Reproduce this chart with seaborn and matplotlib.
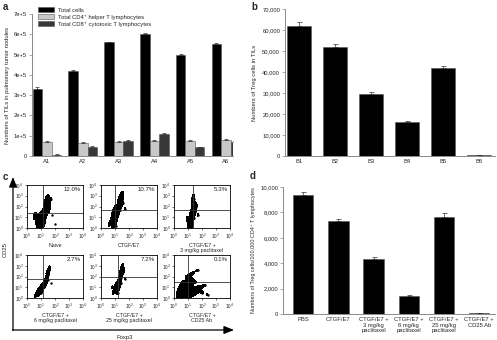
import numpy as np
import pandas as pd
import matplotlib
matplotlib.use("Agg")
import matplotlib.pyplot as plt
from matplotlib.colors import ListedColormap
import seaborn as sns

# ---------------- data ----------------
a_groups = ["A1", "A2", "A3", "A4", "A5", "A6"]
a_series = ["Total cells", "Total CD4⁺ helper T lymphocytes", "Total CD8⁺ cytotoxic T lymphocytes"]
a_total = [330000, 420000, 560000, 600000, 500000, 550000]
a_total_err = [8000, 5000, 4000, 4000, 4000, 8000]
a_cd4 = [70000, 65000, 70000, 75000, 75000, 80000]
a_cd4_err = [2000, 2000, 2000, 5000, 2000, 5000]
a_cd8 = [7000, 45000, 75000, 110000, 42000, 70000]
a_cd8_err = [1000, 2000, 5000, 2000, 3000, 2000]
a_yticks = [0, 100000, 200000, 300000, 400000, 500000, 600000, 700000]
a_yticklabels = ["0", "1e+5", "2e+5", "3e+5", "4e+5", "5e+5", "6e+5", "7e+5"]

b_groups = ["B1", "B2", "B3", "B4", "B5", "B6"]
b_vals = [62000, 52000, 29500, 16300, 42000, 500]
b_err = [2000, 1300, 1000, 600, 1000, 0]
b_yticks = [0, 10000, 20000, 30000, 40000, 50000, 60000, 70000]

d_groups = ["PBS", "CTGF/E7", "CTGF/E7 +\n3 mg/kg\npaclitaxel", "CTGF/E7 +\n6 mg/kg\npaclitaxel",
            "CTGF/E7 +\n25 mg/kg\npaclitaxel", "CTGF/E7 +\nCD25 Ab"]
d_vals = [9400, 7300, 4350, 1400, 7650, 100]
d_err = [200, 200, 100, 60, 300, 0]
d_yticks = [0, 2000, 4000, 6000, 8000, 10000]

# flow cytometry panels (log10 units)
c_titles = ["Naive", "CTGF/E7", "CTGF/E7 +\n3 mg/kg paclitaxel",
            "CTGF/E7 +\n6 mg/kg paclitaxel", "CTGF/E7 +\n25 mg/kg paclitaxel", "CTGF/E7 +\nCD25 Ab"]
c_pct = ["12.0%", "10.7%", "5.3%", "2.7%", "7.2%", "0.1%"]
c_gate_x = [1.15, 1.0, 1.35, 1.15, 1.2, 1.0]
c_gate_y = [1.4, 1.65, 1.65, 1.75, 1.95, 1.5]
c1_x = [0.8, 0.9, 1.0, 1.1, 0.7, 0.9, 1.0, 1.2, 0.8, 1.1, 1.0, 0.9, 1.2, 1.3, 1.3, 1.4, 1.5, 1.4, 1.6, 1.5, 1.3, 1.7, 0.6, 1.8, 0.5, 2.0, 1.1, 1.45]
c1_y = [0.2, 0.4, 0.3, 0.5, 0.6, 0.8, 1.0, 0.9, 1.1, 0.2, 0.7, 0.1, 0.5, 1.3, 1.7, 2.0, 2.3, 2.6, 1.9, 1.5, 2.3, 2.7, 1.4, 1.2, 0.9, 0.4, 1.5, 2.9]
c2_x = [0.8, 0.9, 1.0, 0.7, 0.9, 1.0, 1.1, 0.8, 1.0, 1.1, 1.2, 1.0, 1.3, 1.4, 1.3, 1.5, 1.4, 1.6, 1.2, 1.7, 0.6, 1.1, 1.5, 1.35]
c2_y = [0.1, 0.3, 0.5, 0.6, 0.9, 1.2, 0.2, 1.4, 1.6, 0.8, 1.9, 2.0, 2.2, 2.5, 2.8, 2.6, 3.0, 2.3, 1.3, 1.8, 0.4, 1.0, 3.1, 1.7]
c3_x = [1.0, 1.1, 1.2, 1.3, 1.1, 1.2, 1.0, 1.3, 1.4, 1.2, 1.3, 1.4, 1.5, 1.3, 1.4, 1.6, 1.5, 0.9, 1.7, 1.2, 1.35]
c3_y = [0.1, 0.3, 0.5, 0.2, 0.8, 1.0, 0.6, 1.2, 0.9, 1.4, 1.6, 1.9, 2.2, 2.4, 2.7, 2.0, 1.5, 0.9, 1.2, 0.0, 2.9]
c4_x = [0.6, 0.7, 0.8, 0.9, 1.0, 1.1, 0.8, 0.9, 1.0, 1.1, 1.2, 1.3, 1.2, 1.4, 1.5, 1.4, 1.6, 1.5, 1.3, 0.7, 1.6, 1.7, 1.45]
c4_y = [0.2, 0.4, 0.3, 0.6, 0.5, 0.8, 0.7, 0.9, 1.0, 1.1, 1.0, 1.3, 1.5, 1.8, 2.1, 2.4, 2.6, 1.7, 1.2, 0.6, 2.9, 1.4, 2.2]
c5_x = [0.9, 1.0, 1.1, 1.2, 1.0, 1.1, 1.2, 1.3, 1.4, 1.3, 1.4, 1.5, 1.4, 1.5, 1.6, 1.5, 1.2, 1.7, 0.8, 1.35, 1.55]
c5_y = [0.6, 0.8, 0.7, 0.9, 1.1, 1.3, 1.2, 1.0, 1.4, 1.6, 1.9, 2.2, 2.5, 2.8, 2.4, 3.0, 0.5, 1.8, 1.0, 2.0, 2.6]
c6_x = [0.3, 0.5, 0.7, 0.9, 1.1, 0.4, 0.6, 0.8, 1.0, 1.2, 0.5, 0.7, 0.9, 1.1, 1.3, 0.8, 1.0, 1.4, 1.6, 1.8, 2.0, 2.2, 1.5, 1.2, 0.9, 1.7, 2.4, 0.6, 1.3]
c6_y = [0.2, 0.1, 0.3, 0.2, 0.3, 0.6, 0.5, 0.7, 0.6, 0.5, 0.9, 1.0, 1.1, 0.9, 0.8, 1.3, 1.2, 0.4, 0.7, 1.0, 0.5, 1.2, 1.5, 1.7, 2.0, 2.6, 0.3, 1.4, 2.3]
c_points = [(c1_x, c1_y), (c2_x, c2_y), (c3_x, c3_y), (c4_x, c4_y), (c5_x, c5_y), (c6_x, c6_y)]

# ---------------- style ----------------
sns.set_theme(style="white")
plt.rcParams["font.family"] = ["Liberation Sans", "DejaVu Sans"]
plt.rcParams["mathtext.fontset"] = "custom"
plt.rcParams["mathtext.rm"] = "Liberation Sans"
plt.rcParams["mathtext.it"] = "Liberation Sans:italic"

W, H = 497, 340
AX_COL = "#8a8a8a"
FS = 4.2


def px(l, t, r, b):
    return [l / W, 1 - b / H, (r - l) / W, (b - t) / H]


def style_bar_axes(ax):
    for s in ["top", "right"]:
        ax.spines[s].set_visible(False)
    for s in ["left", "bottom"]:
        ax.spines[s].set_color(AX_COL)
        ax.spines[s].set_linewidth(0.7)
    ax.tick_params(axis="y", length=2, width=0.5, color=AX_COL, labelsize=FS, pad=1.5, direction="out", left=True)
    ax.tick_params(axis="x", length=0, labelsize=FS, pad=2.5)
    ax.set_xlabel("")


fig = plt.figure(figsize=(W / 100, H / 100), dpi=100)

# overlay for panel c arrows/labels
ov = fig.add_axes([0, 0, 1, 1])
ov.set_xlim(0, W)
ov.set_ylim(H, 0)
ov.axis("off")
ov.annotate("", xy=(13, 177), xytext=(13, 330.5),
            arrowprops=dict(arrowstyle="-|>,head_length=0.5,head_width=0.2", color="black", lw=0.9, shrinkA=0, shrinkB=0))
ov.annotate("", xy=(234, 330), xytext=(12.5, 330),
            arrowprops=dict(arrowstyle="-|>,head_length=0.5,head_width=0.2", color="black", lw=0.9, shrinkA=0, shrinkB=0))
ov.text(5, 250, "CD25", rotation=90, ha="center", va="center", fontsize=FS)
ov.text(125, 337, "Foxp3", ha="center", va="center", fontsize=FS)

# ---------------- panel a ----------------
axa = fig.add_axes(px(32, 14, 233, 156))
dfa = pd.DataFrame({
    "group": a_groups * 3,
    "series": [a_series[0]] * 6 + [a_series[1]] * 6 + [a_series[2]] * 6,
    "value": a_total + a_cd4 + a_cd8,
})
sns.barplot(data=dfa, x="group", y="value", hue="series", hue_order=a_series,
            palette=["#000000", "#c8c8c8", "#383838"], width=0.8, errorbar=None,
            edgecolor="#555555", linewidth=0.4, ax=axa)
for cont, errs in zip(axa.containers, [a_total_err, a_cd4_err, a_cd8_err]):
    xs = [p.get_x() + p.get_width() / 2 for p in cont.patches]
    hs = [p.get_height() for p in cont.patches]
    axa.errorbar(xs, hs, yerr=[np.zeros(len(errs)), errs], fmt="none", ecolor="#333333",
                 elinewidth=0.5, capsize=1.2, capthick=0.5)
axa.set_xlim(-0.42, 5.2)
axa.set_ylim(0, 700000)
axa.set_yticks(a_yticks)
axa.set_yticklabels(a_yticklabels)
style_bar_axes(axa)
axa.set_ylabel("Numbers of TILs in pulmonary tumor nodules", fontsize=FS, labelpad=3)
handles, labels = axa.get_legend_handles_labels()
axa.legend(handles, labels, loc="upper left", bbox_to_anchor=(36 / W, 1 - 5 / H),
           bbox_transform=fig.transFigure, frameon=False, fontsize=FS,
           handlelength=2.6, handleheight=0.9, handletextpad=0.8, labelspacing=0.25, borderaxespad=0)

# ---------------- panel b ----------------
axb = fig.add_axes(px(285, 9, 495, 156))
sns.barplot(x=b_groups, y=b_vals, color="black", width=0.68, errorbar=None,
            edgecolor="#555555", linewidth=0.4, ax=axb)
xs = [p.get_x() + p.get_width() / 2 for p in axb.patches]
axb.errorbar(xs, b_vals, yerr=[np.zeros(6), b_err], fmt="none", ecolor="#333333",
             elinewidth=0.5, capsize=1.8, capthick=0.5)
axb.set_xlim(-0.39, 5.45)
axb.set_ylim(0, 70000)
axb.set_yticks(b_yticks)
axb.set_yticklabels([f"{v:,}" for v in b_yticks])
style_bar_axes(axb)
axb.set_ylabel("Numbers of Treg cells in TILs", fontsize=FS, labelpad=4)

# ---------------- panel d ----------------
axd = fig.add_axes(px(283, 187, 495, 314))
sns.barplot(x=list(range(6)), y=d_vals, color="black", width=0.58, errorbar=None,
            edgecolor="#555555", linewidth=0.4, ax=axd)
xs = [p.get_x() + p.get_width() / 2 for p in axd.patches]
axd.errorbar(xs, d_vals, yerr=[np.zeros(6), d_err], fmt="none", ecolor="#333333",
             elinewidth=0.5, capsize=1.8, capthick=0.5)
axd.set_xlim(-0.57, 5.45)
axd.set_ylim(0, 10000)
axd.set_yticks(d_yticks)
axd.set_yticklabels([f"{v:,}" for v in d_yticks])
axd.set_xticks(range(6))
axd.set_xticklabels(d_groups, linespacing=1.05, va="top")
style_bar_axes(axd)
axd.set_ylabel("Numbers of Treg cells/100,000 CD4⁺ T lymphocytes", fontsize=3.9, labelpad=3)

# ---------------- panel c ----------------
cols = [(27, 83), (101, 157), (174, 230)]
rows = [(185, 228), (255, 298)]
tick_lbls = [r"$10^{0}$", r"$10^{1}$", r"$10^{2}$", r"$10^{3}$", r"$10^{4}$"]
black_cmap = ListedColormap(["black", "black"])
for i in range(6):
    r, c = divmod(i, 3)
    ax = fig.add_axes(px(cols[c][0], rows[r][0], cols[c][1], rows[r][1]))
    xv, yv = c_points[i]
    sns.kdeplot(x=xv, y=yv, fill=True, levels=[0.25, 1], cmap=black_cmap, bw_adjust=0.6, ax=ax)
    sns.scatterplot(x=xv, y=yv, s=3.0, color="black", linewidth=0, ax=ax)
    ax.axvline(c_gate_x[i], color="#333333", lw=0.6)
    ax.axhline(c_gate_y[i], color="#333333", lw=0.6)
    ax.set_xlim(0, 4)
    ax.set_ylim(0, 4)
    ax.set_xticks(range(5))
    ax.set_yticks(range(5))
    ax.set_xticklabels(tick_lbls)
    ax.set_yticklabels(tick_lbls)
    ax.tick_params(labelsize=3.4, length=1.5, width=0.4, pad=1, left=True, bottom=True, color="black")
    for s in ax.spines.values():
        s.set_color("black")
        s.set_linewidth(0.6)
    ax.set_xlabel(c_titles[i], fontsize=3.8, labelpad=1.5, linespacing=1.1)
    ax.set_ylabel("")
    ax.text(0.96, 0.96, c_pct[i], transform=ax.transAxes, ha="right", va="top", fontsize=4.4)

# panel letters
for lbl, x, y in [("a", 3, 7), ("b", 251, 7), ("c", 3, 177), ("d", 250, 176)]:
    fig.text(x / W, 1 - y / H, lbl, fontsize=7, fontweight="bold", ha="left", va="center")

fig.savefig("out.png", dpi=100)
